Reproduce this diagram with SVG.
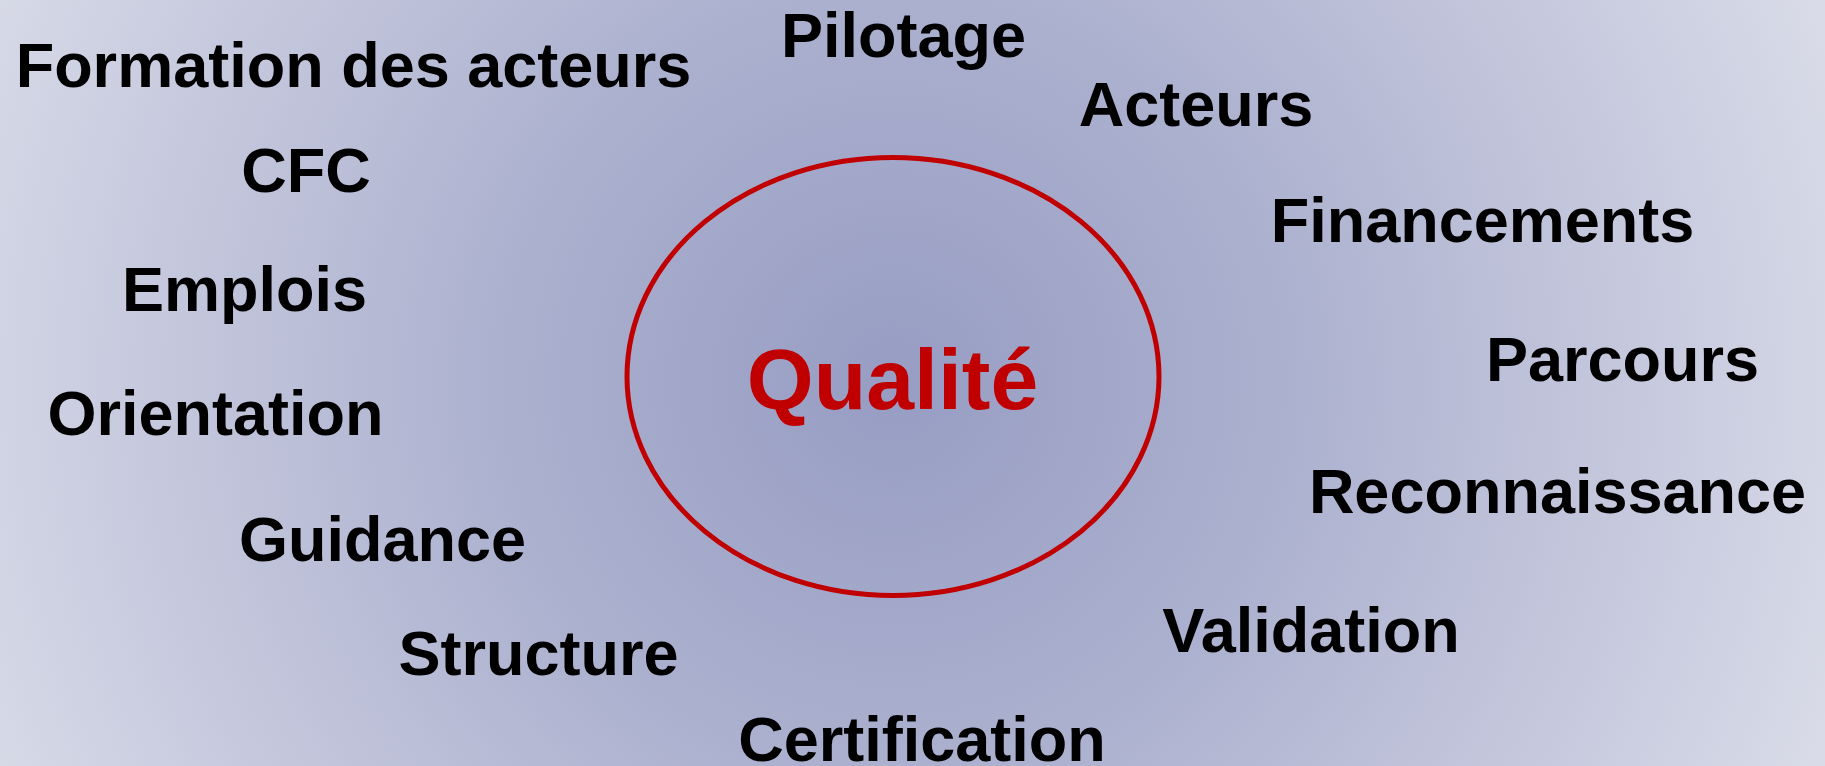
<svg xmlns="http://www.w3.org/2000/svg" width="1825" height="766" viewBox="0 0 1825 766">
  <defs>
    <radialGradient id="bg" gradientUnits="userSpaceOnUse" cx="893" cy="383" r="1000">
      <stop offset="0" stop-color="#979dc3"/>
      <stop offset="0.4" stop-color="#acb1cf"/>
      <stop offset="1" stop-color="#d9dbe8"/>
    </radialGradient>
  </defs>
  <style>
    .lbl { font-family: "Liberation Sans", Arial, sans-serif; font-weight: bold; font-size: 63px; fill: #000; text-anchor: middle; }
    .core { font-family: "Liberation Sans", Arial, sans-serif; font-weight: bold; font-size: 86px; fill: #c00000; text-anchor: middle; }
    .ring { fill: none; stroke: #c00000; stroke-width: 5; }
  </style>
  <rect x="0" y="0" width="1825" height="766" fill="url(#bg)"/>
  <g id="qualite">
    <ellipse class="ring" cx="893" cy="376.5" rx="266" ry="219"/>
    <text class="core" x="892.5" y="409">Qualité</text>
  </g>
  <g id="formation-des-acteurs"><text class="lbl" x="353.5" y="87">Formation des acteurs</text></g>
  <g id="pilotage"><text class="lbl" x="903.5" y="57">Pilotage</text></g>
  <g id="acteurs"><text class="lbl" x="1196" y="126">Acteurs</text></g>
  <g id="cfc"><text class="lbl" x="306" y="192">CFC</text></g>
  <g id="financements"><text class="lbl" x="1482.5" y="242">Financements</text></g>
  <g id="emplois"><text class="lbl" x="244.5" y="311">Emplois</text></g>
  <g id="parcours"><text class="lbl" x="1622.5" y="381">Parcours</text></g>
  <g id="orientation"><text class="lbl" x="215.5" y="435">Orientation</text></g>
  <g id="reconnaissance"><text class="lbl" x="1557.5" y="513">Reconnaissance</text></g>
  <g id="guidance"><text class="lbl" x="382.5" y="561">Guidance</text></g>
  <g id="validation"><text class="lbl" x="1311" y="652">Validation</text></g>
  <g id="structure"><text class="lbl" x="538.5" y="675">Structure</text></g>
  <g id="certification"><text class="lbl" x="922" y="761">Certification</text></g>
</svg>
